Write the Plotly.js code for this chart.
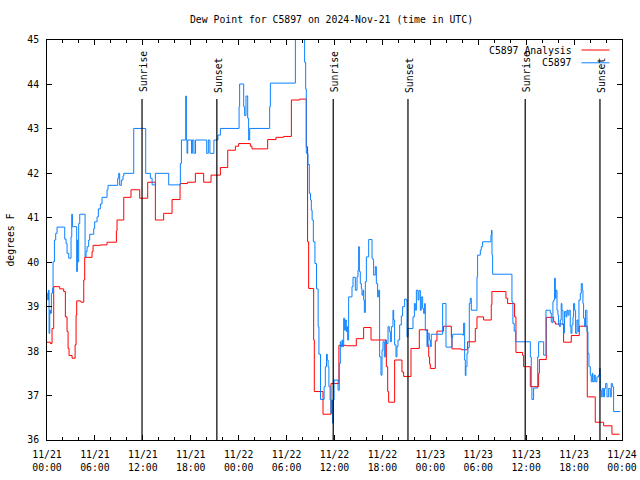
<!DOCTYPE html>
<html>
<head>
<meta charset="utf-8">
<script src="https://cdn.plot.ly/plotly-3.0.1.min.js"></script>
<style>html,body{margin:0;padding:0;background:#fff;}#chart{width:640px;height:480px;}</style>
</head>
<body>
<div id="chart"></div>
<script>
// Hours since 2024-11-21 00:00 UTC and dew point values (deg F)
const redHours = [0.00,0.43,0.63,0.84,1.59,2.09,2.30,2.51,2.64,2.76,3.14,3.52,3.64,3.72,4.18,4.26,4.60,4.72,5.64,5.77,6.69,7.52,8.69,8.77,9.61,10.52,11.61,12.61,13.57,14.61,15.66,16.66,17.60,18.58,19.62,20.54,21.71,22.63,23.59,24.00,25.46,25.67,27.63,28.68,29.63,30.60,31.64,32.47,32.63,32.76,33.39,33.47,34.56,35.56,36.55,37.48,38.73,39.65,40.57,42.49,42.66,42.78,43.53,44.45,44.66,45.58,46.62,47.66,47.80,47.91,48.00,48.62,48.83,49.66,50.63,50.71,51.88,52.67,53.63,53.84,54.67,55.63,55.71,57.47,57.68,58.55,58.72,59.56,59.68,60.52,61.56,61.65,62.52,63.44,63.65,64.69,65.65,66.65,67.65,68.65,69.70,70.74,71.70];
const redValues = [38.20,38.17,38.51,39.45,39.40,39.34,38.77,38.44,38.06,37.90,37.84,38.14,38.81,39.13,39.12,39.10,39.60,40.11,40.24,40.38,40.39,40.45,40.70,40.95,41.46,41.63,41.44,41.80,40.95,41.10,41.41,41.77,41.80,42.00,41.80,41.96,42.13,42.52,42.61,42.67,42.61,42.55,42.76,42.81,42.83,43.65,43.67,42.60,40.46,39.41,38.25,37.09,36.58,37.27,38.13,38.12,38.28,38.53,38.25,37.65,37.09,36.85,37.80,37.53,37.43,38.06,38.48,38.14,37.87,37.71,37.61,38.23,38.45,38.56,38.31,38.05,38.03,38.21,38.51,38.77,38.70,39.04,39.34,39.19,39.07,38.77,37.97,37.90,37.65,37.20,37.50,37.81,38.76,38.66,38.61,38.20,38.35,38.56,36.97,36.40,36.32,36.13,36.13];

const blueHours = [0.00,0.09,0.18,0.26,0.34,0.43,0.55,0.68,0.76,0.93,1.09,1.26,2.22,2.39,2.51,2.72,3.01,3.10,3.18,3.72,3.80,3.85,3.97,4.10,4.77,4.89,5.02,5.22,5.35,5.85,5.97,6.27,6.43,6.68,6.89,7.52,7.64,8.85,8.98,9.10,9.31,9.52,9.61,10.86,12.36,12.94,13.16,13.57,15.24,16.70,16.83,17.37,17.45,17.53,17.62,18.10,18.20,18.40,18.60,20.00,20.20,20.40,20.90,21.40,21.71,24.05,24.12,24.63,24.75,24.92,25.13,25.25,25.38,27.88,27.97,31.10,32.26,32.39,32.47,32.68,32.85,33.00,33.10,33.20,33.35,33.55,33.75,33.95,34.05,34.25,34.70,34.85,35.00,35.10,35.20,35.30,35.45,35.55,35.65,35.75,35.85,35.95,36.45,36.60,36.73,36.81,36.94,37.02,37.15,37.27,37.36,37.48,37.57,37.65,37.77,38.19,38.32,38.61,38.82,38.94,39.03,39.11,39.23,39.36,39.44,39.57,39.65,39.74,39.86,39.99,40.28,40.70,40.82,40.90,41.11,41.24,41.40,41.53,41.65,41.82,41.95,42.07,42.24,42.37,42.49,42.70,42.86,42.99,43.12,43.32,43.41,43.53,43.70,43.82,43.95,44.16,44.37,44.53,44.78,44.99,45.08,45.20,45.83,46.00,46.12,46.25,46.46,46.58,46.75,46.87,47.04,47.16,47.29,47.37,47.58,47.71,47.87,48.00,48.12,49.54,49.96,50.71,50.79,52.05,52.17,52.30,52.38,52.46,52.59,52.71,52.88,53.00,53.13,53.84,53.92,54.26,54.38,54.55,55.59,55.67,55.72,55.80,58.22,58.34,58.50,58.70,60.52,60.64,60.72,60.93,61.44,61.56,62.19,62.48,63.02,63.14,63.23,63.35,63.44,63.56,63.65,63.73,63.86,63.98,64.06,64.19,64.27,64.39,64.48,64.60,64.69,64.81,64.98,65.10,65.23,65.36,65.52,65.61,65.73,65.86,65.94,66.07,66.19,66.36,66.49,66.61,66.78,66.90,67.03,67.11,67.19,67.32,67.44,67.61,67.74,67.86,68.03,68.15,68.28,68.36,68.53,68.65,68.86,69.07,69.19,69.28,69.40,69.53,69.70,69.82,69.95,70.12,70.33,70.53,70.66,70.79,70.95,71.80];
const blueValues = [39.30,39.15,39.37,38.40,38.92,38.85,39.30,39.41,40.01,40.50,40.65,40.79,40.52,40.42,40.20,40.09,40.57,41.08,40.80,39.79,40.50,40.01,40.87,41.08,40.12,40.24,40.35,40.50,40.63,40.76,40.91,41.02,41.20,41.31,41.46,41.63,41.73,41.89,42.00,41.73,41.85,41.94,42.00,43.01,42.00,41.89,41.74,42.00,41.74,42.22,42.75,43.74,42.75,42.45,42.75,42.45,42.75,42.45,42.75,42.45,42.75,42.45,42.75,42.86,43.01,43.50,44.01,43.50,43.30,43.74,43.24,42.75,43.01,43.50,44.03,45.60,44.50,43.90,42.45,42.20,41.55,41.40,41.17,40.95,40.46,39.97,39.40,38.55,37.93,36.91,37.20,37.65,37.93,37.80,37.65,37.20,36.90,36.60,36.90,36.38,36.90,37.35,37.12,37.72,38.21,38.10,38.25,38.10,38.74,38.47,38.70,38.44,38.55,38.25,39.22,39.45,39.66,39.37,39.67,39.82,40.35,39.79,39.52,39.41,39.26,39.37,39.15,38.87,39.56,40.12,40.51,40.09,40.05,39.71,39.90,39.52,39.22,39.37,37.87,37.46,38.02,38.21,37.87,38.25,38.17,38.55,38.44,38.21,38.55,38.92,38.70,38.14,37.87,38.10,38.25,38.59,38.79,39.00,39.17,39.15,38.32,38.51,38.77,39.07,38.92,39.37,39.15,39.36,38.92,39.22,38.96,38.85,39.07,38.47,38.10,38.40,38.25,38.10,38.38,39.07,38.09,38.30,38.38,38.36,38.63,37.80,37.45,37.65,37.95,38.08,39.07,39.19,38.92,39.67,40.16,40.27,40.35,40.46,40.61,40.72,40.16,39.73,39.11,38.62,38.45,38.21,37.87,37.20,36.91,37.17,37.87,38.21,37.91,38.92,38.86,38.66,38.64,39.11,39.15,39.64,39.19,39.37,38.92,38.81,38.59,38.55,38.70,39.07,38.92,38.59,38.41,38.89,38.77,38.92,38.81,38.92,38.55,38.40,38.59,38.77,39.07,38.92,38.40,38.70,38.44,39.15,39.30,39.52,39.37,39.07,38.74,38.55,38.92,38.44,37.95,37.65,37.46,37.31,37.50,37.31,37.46,37.31,37.42,37.46,37.61,37.12,36.97,37.16,36.97,37.16,37.27,36.97,37.16,36.97,37.27,37.20,36.64,36.64];

const sunHours = [11.90, 21.27, 35.84, 45.20, 59.88, 69.24];
const sunLabels = ["Sunrise", "Sunset", "Sunrise", "Sunset", "Sunrise", "Sunset"];
const seriesNames = ["C5897 Analysis", "C5897"];
const yTicks = [36,37,38,39,40,41,42,43,44,45];

const t0 = Date.UTC(2024, 10, 21);
function toDate(h) {
  return new Date(t0 + Math.round(h * 3600000)).toISOString().slice(0, 19).replace('T', ' ');
}

const FONT = "DejaVu Sans Mono";
const RED = "#ff0000";
const BLUE = "#0a80ff";

const traces = [
  {x: redHours.map(toDate), y: redValues, type: 'scatter', mode: 'lines', name: seriesNames[0],
   line: {color: RED, width: 1, shape: 'hv'}},
  {x: blueHours.map(toDate), y: blueValues, type: 'scatter', mode: 'lines', name: seriesNames[1],
   line: {color: BLUE, width: 1, shape: 'hv'}}
];

const shapes = [];
const annotations = [];
sunHours.forEach((h, i) => {
  shapes.push({type: 'line', xref: 'x', yref: 'y', x0: toDate(h), x1: toDate(h), y0: 36, y1: 43.67,
    line: {color: 'black', width: 1.2}});
  annotations.push({x: toDate(h), y: 43.84, xref: 'x', yref: 'y', text: sunLabels[i], textangle: -90,
    showarrow: false, xanchor: 'center', yanchor: 'bottom', xshift: 1, yshift: -3,
    font: {family: FONT, size: 9.8, color: 'black'}});
});

// legend (gnuplot style: text right, sample to the right)
const legendRows = [{y: 0.975, color: RED}, {y: 0.943, color: BLUE}];
legendRows.forEach((r, i) => {
  shapes.push({type: 'line', xref: 'paper', yref: 'paper', x0: 0.9295, x1: 0.978, y0: r.y, y1: r.y,
    line: {color: r.color, width: 1}});
  annotations.push({x: 0.917, y: r.y, xref: 'paper', yref: 'paper', text: seriesNames[i], showarrow: false,
    xanchor: 'right', yanchor: 'middle', font: {family: FONT, size: 9.8, color: 'black'}});
});

const layout = {
  width: 640, height: 480,
  margin: {l: 46.6, r: 18.3, t: 40, b: 40},
  paper_bgcolor: 'white', plot_bgcolor: 'white',
  showlegend: false,
  font: {family: FONT, size: 9.8, color: 'black'},
  title: {text: 'Dew Point for C5897 on 2024-Nov-21 (time in UTC)', font: {family: FONT, size: 9.8, color: 'black'},
    xref: 'container', x: 0.518, xanchor: 'center', yref: 'container', y: 0.96, yanchor: 'middle'},
  xaxis: {
    type: 'date', range: [toDate(0), toDate(72)],
    tick0: toDate(0), dtick: 6 * 3600000, tickformat: '%m/%d<br>%H:%M',
    ticks: 'inside', ticklen: 5, tickcolor: 'black', tickwidth: 1,
    minor: {dtick: 2 * 3600000, ticks: 'inside', ticklen: 3, tickcolor: 'black', showgrid: false},
    showline: true, linecolor: 'black', linewidth: 1, mirror: 'ticks',
    showgrid: false, zeroline: false, ticklabelstandoff: 5,
    tickfont: {family: FONT, size: 9.8, color: 'black'}
  },
  yaxis: {
    range: [36, 45], tickvals: yTicks, ticktext: yTicks.map(String),
    ticks: 'inside', ticklen: 5, tickcolor: 'black', tickwidth: 1,
    showline: true, linecolor: 'black', linewidth: 1, mirror: 'ticks',
    showgrid: false, zeroline: false, ticklabelstandoff: 5,
    title: {text: 'degrees F', font: {family: FONT, size: 9.8, color: 'black'}, standoff: 10},
    tickfont: {family: FONT, size: 9.8, color: 'black'}
  },
  shapes: shapes,
  annotations: annotations
};

Plotly.newPlot('chart', traces, layout, {displayModeBar: false, staticPlot: true});
</script>
</body>
</html>
